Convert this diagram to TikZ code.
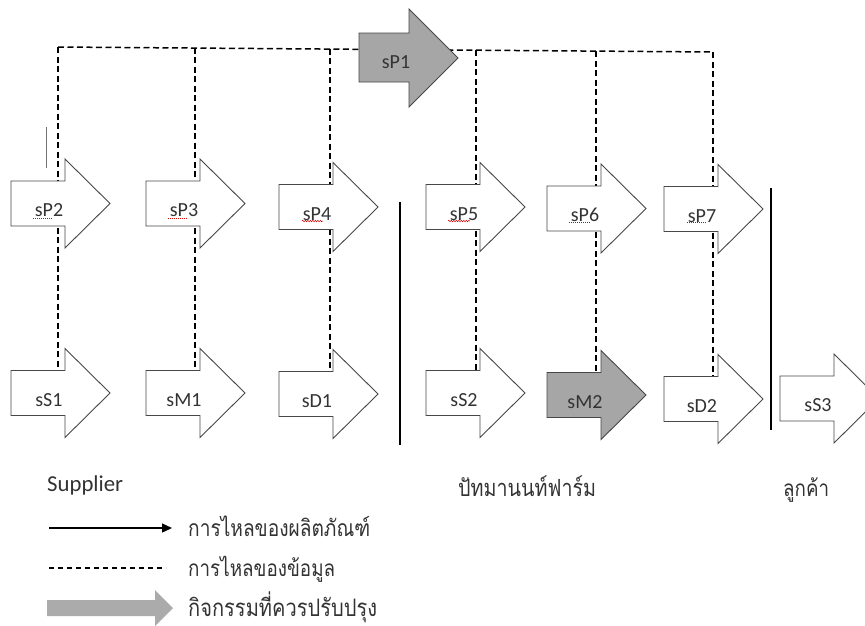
\documentclass[tikz,border=0pt]{standalone}
\usepackage{fontspec}
\setmainfont{Carlito}
\newfontfamily\thaifont[Script=Thai]{Loma}
\usetikzlibrary{arrows.meta,decorations.pathmorphing}
\newcommand\farrow[5]{%
  \draw[#1] (#3,#4-22.5) -- ++(54,0) -- ++(0,-22) -- (#3+99,#4) -- (#3+54,#4+44.5) -- ++(0,-22) -- (#3,#4+22.5) -- cycle;
  \node[lbl] (#2) at (#3+38,#4+13) {#5};
}
\newcommand\thaiw[2]{\scalebox{1}[1.2]{\resizebox{#1pt}{!}{\thaifont #2}}}
\begin{document}
\begin{tikzpicture}[x=1pt,y=-1pt,
  blk/.style={draw=black!72,line width=0.9pt,fill=white,line join=miter},
  hot/.style={draw=black!72,line width=0.9pt,fill=black!35,line join=miter},
  info/.style={draw=black,line width=1.5pt,dash pattern=on 6pt off 3.5pt},
  lbl/.style={anchor=base,inner sep=0pt,text=black!80,font=\fontsize{20}{24}\selectfont},
  thai/.style={anchor=base west,inner sep=0pt,text=black!80,font=\fontsize{20}{24}\selectfont},
  bar/.style={draw=black,line width=1.5pt},
  spell/.style={draw=red!85!black,line width=0.6pt,dash pattern=on 1pt off 1pt},
  spellw/.style={draw=red!85!black,line width=0.5pt,decorate,decoration={snake,amplitude=0.7pt,segment length=2.5pt}}]
\path[use as bounding box] (0,0) rectangle (865,625);
% information flow (dashed)
\coordinate (t1) at (58,47);
\coordinate (t2) at (195,47.5);
\coordinate (t3) at (330,48.5);
\coordinate (t4) at (476,50);
\coordinate (t5) at (596,51);
\coordinate (t6) at (713,52);
\draw[info] (t1) -- (t6);
\draw[info] (t1) -- (58,371);
\draw[info] (t2) -- (195,371);
\draw[info] (t3) -- (330,372);
\draw[info] (t4) -- (476,371);
\draw[info] (t5) -- (596,376);
\draw[info] (t6) -- (713,376);
% sP1
\draw[hot] (359,33) -- (409,33) -- (409,9) -- (458,58) -- (409,107) -- (409,82) -- (359,82) -- cycle;
\node[lbl] (sP1) at (396,68) {sP1};
% top row
\farrow{blk}{sP2}{11}{203.5}{sP2}
\farrow{blk}{sP3}{146}{203.5}{sP3}
\farrow{blk}{sP4}{279}{207}{sP4}
\farrow{blk}{sP5}{426}{207}{sP5}
\farrow{blk}{sP6}{547}{208.5}{sP6}
\farrow{blk}{sP7}{664}{209}{sP7}
% bottom row
\farrow{blk}{sS1}{11}{393}{sS1}
\farrow{blk}{sM1}{146}{393}{sM1}
\farrow{blk}{sD1}{279}{394}{sD1}
\farrow{blk}{sS2}{426}{393}{sS2}
\farrow{hot}{sM2}{547}{395}{sM2}
\farrow{blk}{sD2}{664}{399}{sD2}
\farrow{blk}{sS3}{780}{398.5}{sS3}
% spell-check marks
\draw[spell] (33,218) -- (53,218);
\draw[spell] (168,218) -- (188,218);
\draw[spellw] (302,221) -- (323,221);
\draw[spellw] (448,221) -- (470,221);
\draw[spell] (569,222.5) -- (590,222.5);
\draw[spell] (687,222.5) -- (707,222.5);
% separators
\draw[draw=black!55,line width=0.9pt] (46,127) -- (46,168);
\draw[bar] (400,202) -- (400,445);
\draw[bar] (771,188) -- (771,430);
% group labels
\node[thai] (sup) at (47,491) {\resizebox{76pt}{!}{Supplier}};
\node[thai] (farm) at (458,496) {\thaiw{138}{ปัทมานนท์ฟาร์ม}};
\node[thai] (cust) at (783,496) {\thaiw{46}{ลูกค้า}};
% legend
\coordinate (la) at (49,528);
\coordinate (lb) at (172,528);
\draw[line width=1.4pt,-{Triangle[length=10pt,width=9pt]}] (la) -- (lb);
\node[thai] (lg1) at (188,536) {\thaiw{182}{การไหลของผลิตภัณฑ์}};
\coordinate (lc) at (49,568);
\coordinate (ld) at (166,568);
\draw[info,line width=1.1pt,dash pattern=on 5pt off 4pt] (lc) -- (ld);
\node[thai] (lg2) at (188,576) {\thaiw{147}{การไหลของข้อมูล}};
\fill[black!33] (47,600) -- (155,600) -- (155,590) -- (173,608) -- (155,626) -- (155,616) -- (47,616) -- cycle;
\node[thai] (lg3) at (188,616) {\thaiw{189}{กิจกรรมที่ควรปรับปรุง}};
\end{tikzpicture}
\end{document}
